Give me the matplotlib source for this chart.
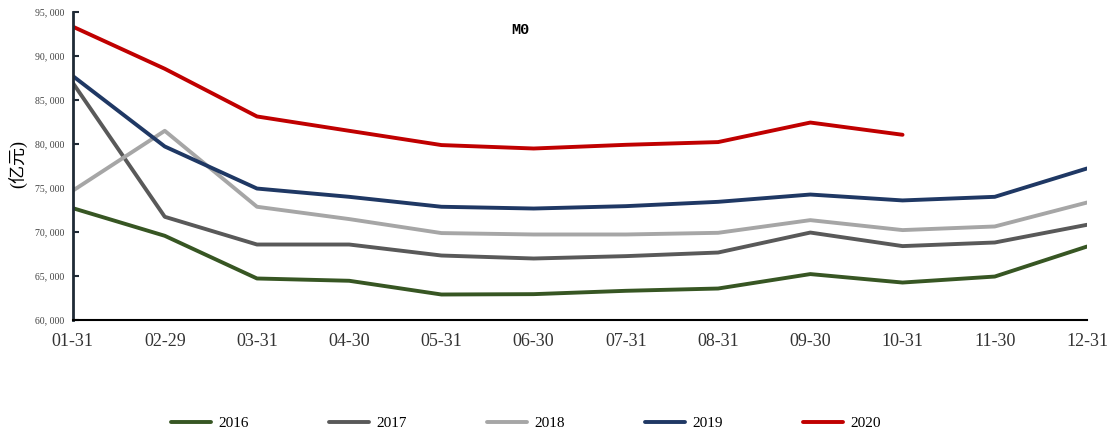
import matplotlib
matplotlib.use("Agg")
import matplotlib.pyplot as plt
from matplotlib.ticker import FuncFormatter

# month-end labels and M0 balances (100 million yuan)
months = ["01-31", "02-29", "03-31", "04-30", "05-31", "06-30",
          "07-31", "08-31", "09-30", "10-31", "11-30", "12-31"]
m0_2016 = [72730, 69580, 64730, 64470, 62910, 62950, 63330, 63590, 65230, 64270, 64950, 68360]
m0_2017 = [87000, 71740, 68590, 68590, 67340, 67000, 67270, 67680, 69950, 68410, 68820, 70830]
m0_2018 = [74690, 81510, 72880, 71480, 69890, 69730, 69730, 69920, 71360, 70230, 70640, 73360]
m0_2019 = [87760, 79730, 74950, 74010, 72880, 72680, 72950, 73440, 74270, 73600, 74010, 77230]
m0_2020 = [93360, 88560, 83140, 81510, 79890, 79500, 79920, 80230, 82450, 81060]

series = [("2016", m0_2016, "#375623"),
          ("2017", m0_2017, "#595959"),
          ("2018", m0_2018, "#A6A6A6"),
          ("2019", m0_2019, "#1F3864"),
          ("2020", m0_2020, "#C00000")]

plt.rcParams['font.family'] = ['Liberation Serif', 'Noto Sans CJK SC']

fig = plt.figure(figsize=(11.16, 4.32), dpi=100)
ax = fig.add_axes([0.065, 0.259, 0.909, 0.713])

for name, vals, color in series:
    ax.plot(months[:len(vals)], vals, color=color, linewidth=2.8, label=name,
            solid_capstyle='round')

ax.set_xlim(0, len(months) - 1)
ax.set_ylim(60000, 95000)
ax.set_yticks(range(60000, 95001, 5000))
ax.yaxis.set_major_formatter(FuncFormatter(lambda v, p: f"{v:,.0f}".replace(",", ", ")))
ax.tick_params(axis='y', direction='in', length=4, width=1.5, labelsize=7,
               labelcolor='#404040', color='#1f2a36', pad=6)
ax.tick_params(axis='x', length=0, labelsize=13, labelcolor='#333333', pad=9)

for s in ['top', 'right']:
    ax.spines[s].set_visible(False)
ax.spines['left'].set_color('#1f2a36')
ax.spines['left'].set_linewidth(2)
ax.spines['bottom'].set_color('black')
ax.spines['bottom'].set_linewidth(1.5)

ax.text(0.441, 0.942, "M0", transform=ax.transAxes, ha='center', va='center',
        fontsize=11, fontweight='bold', family=['Liberation Mono', 'DejaVu Sans Mono'])
fig.text(0.016, 0.62, "(亿元)", rotation=90, ha='center', va='center', fontsize=13)

fig.legend(loc='center', bbox_to_anchor=(0.4715, 0.02), ncol=5, frameon=False,
           fontsize=11, handlelength=2.6, columnspacing=5.25, handletextpad=0.5)

fig.savefig("out.png", dpi=100)
